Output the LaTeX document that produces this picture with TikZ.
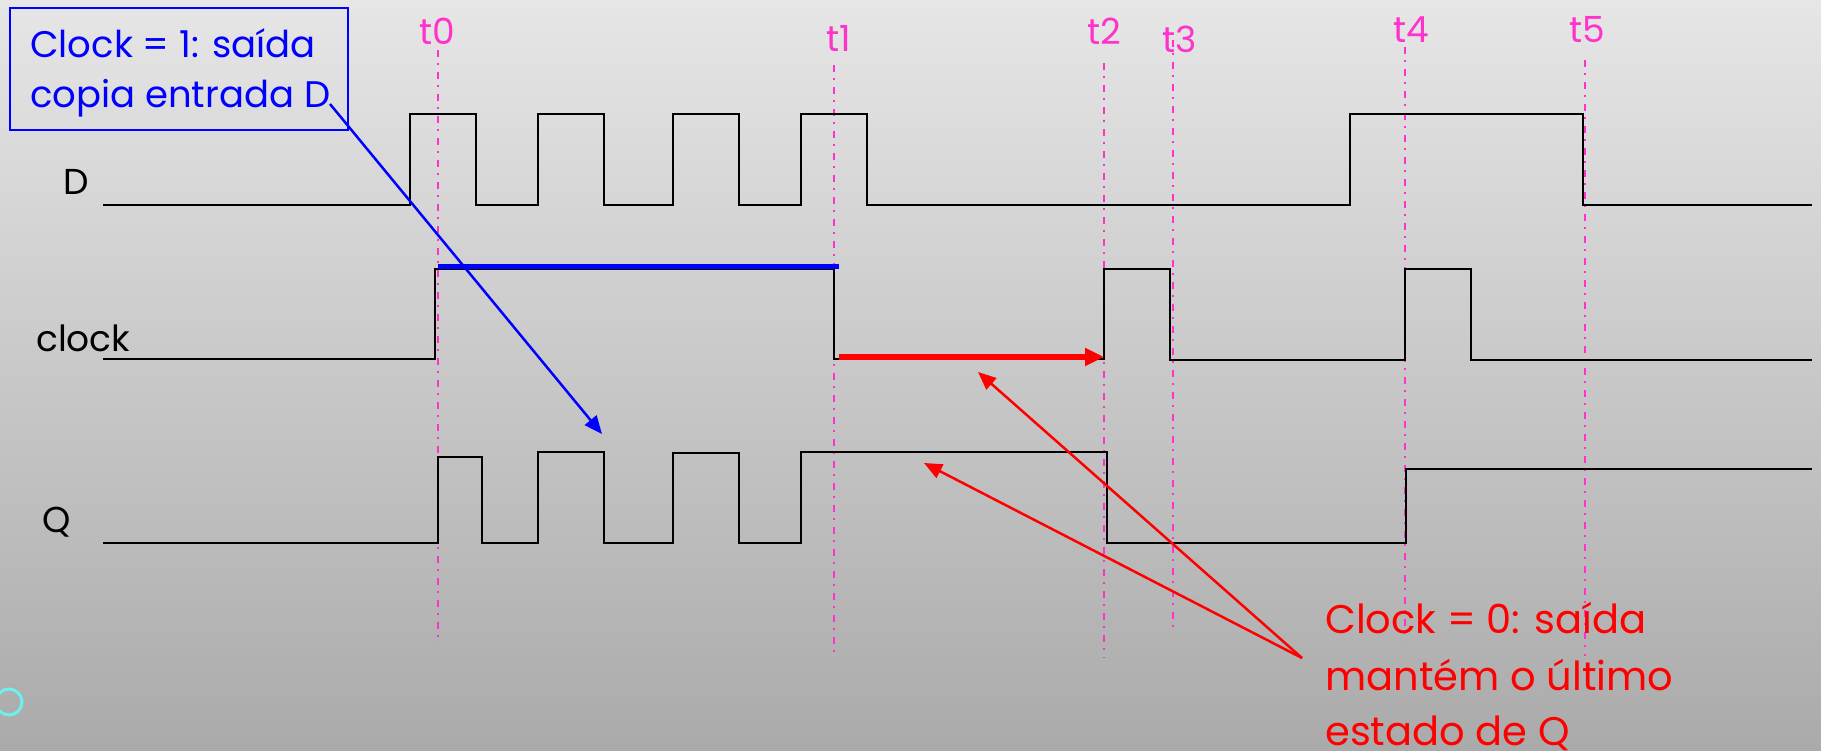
\documentclass[tikz,border=0pt]{standalone}
\usepackage{fontspec}
\setmainfont{Poppins}
\usetikzlibrary{arrows.meta}
\definecolor{pinkline}{RGB}{255,51,204}
\definecolor{bgtop}{RGB}{230,230,230}
\definecolor{bgbot}{RGB}{170,170,170}
\definecolor{cyanring}{RGB}{110,240,240}
\tikzset{
  sig/.style={black,line width=2.5pt,line join=miter},
  tline/.style={pinkline,line width=2.5pt,dash pattern=on 7pt off 6pt on 2pt off 7pt},
  tlab/.style={pinkline,font=\fontsize{36}{36}\selectfont,anchor=base,inner sep=0pt},
  siglab/.style={black,font=\fontsize{36}{36}\selectfont,anchor=base west,inner sep=0pt},
  bluetxt/.style={blue,font=\fontsize{37}{37}\selectfont,anchor=base west,inner sep=0pt},
  redtxt/.style={red,font=\fontsize{40}{40}\selectfont,anchor=base west,inner sep=0pt},
  thinarrow/.style={line width=2.5pt,-{Triangle[length=18pt,width=15pt]}},
}
\begin{document}
\begin{tikzpicture}[x=1pt,y=-1pt]
\useasboundingbox (0,0) rectangle (1821,751);
\shade[top color=bgtop,bottom color=bgbot] (0,0) rectangle (1821,751);
% time markers
\foreach \n/\x/\top/\bot/\lx/\ly in {0/438/50/644/437/45, 1/834/65/659/839/52, 2/1104/63/658/1104/45, 3/1173/40/632/1180/53, 4/1405/47/641/1411/43, 5/1585/60/656/1587/43}{
  \draw[tline] (\x,\top) -- (\x,\bot);
  \node[tlab] (t\n) at (\lx,\ly) {t\n};
}
% signal labels
\node[siglab] (labD) at (63,195) {D};
\node[siglab] (labclk) at (36,352) {clock};
\node[siglab] (labQ) at (42,532) {Q};
% D
\draw[sig] (103,205) -- (410,205) -- (410,114) -- (476,114) -- (476,205) -- (538,205) -- (538,114) -- (604,114) -- (604,205) -- (673,205) -- (673,114) -- (739,114) -- (739,205) -- (801,205) -- (801,114) -- (867,114) -- (867,205) -- (1350,205) -- (1350,114) -- (1583,114) -- (1583,205) -- (1812,205);
% clock
\draw[sig] (103,359) -- (435,359) -- (435,269) -- (834,269) -- (834,359) -- (1104,359) -- (1104,269) -- (1170,269) -- (1170,360) -- (1405,360) -- (1405,269) -- (1471,269) -- (1471,360) -- (1812,360);
% Q
\draw[sig] (103,543) -- (438,543) -- (438,457) -- (482,457) -- (482,543) -- (538,543) -- (538,452) -- (604,452) -- (604,543) -- (673,543) -- (673,453) -- (739,453) -- (739,543) -- (801,543) -- (801,452) -- (1107,452) -- (1107,543) -- (1406,543) -- (1406,469) -- (1812,469);
% highlight lines
\coordinate (bs) at (438,267);
\coordinate (be) at (839,267);
\draw[blue,line width=5pt] (bs) -- (be);
\coordinate (rs) at (839,357);
\coordinate (re) at (1104,357);
\draw[red,line width=6pt,-{Triangle[length=19pt,width=17pt]}] (rs) -- (re);
% blue callout
\draw[blue,line width=2pt] (10,8) rectangle (348,130);
\node[bluetxt] (b1) at (30,58) {Clock = 1: saída};
\node[bluetxt] (b2) at (30,108) {copia entrada D};
\coordinate (bfrom) at (330,104);
\coordinate (bto) at (602,434);
\draw[blue,thinarrow] (bfrom) -- (bto);
% red callout
\node[redtxt] (r1) at (1325,633) {Clock = 0: saída};
\node[redtxt] (r2) at (1325,690) {mantém o último};
\node[redtxt] (r3) at (1325,745) {estado de Q};
\coordinate (rfrom) at (1302,658);
\coordinate (rto1) at (978,372);
\coordinate (rto2) at (924,463);
\draw[red,thinarrow] (rfrom) -- (rto1);
\draw[red,thinarrow] (rfrom) -- (rto2);
% ring
\draw[cyanring,line width=3pt] (9,702) circle (13);
\end{tikzpicture}
\end{document}
